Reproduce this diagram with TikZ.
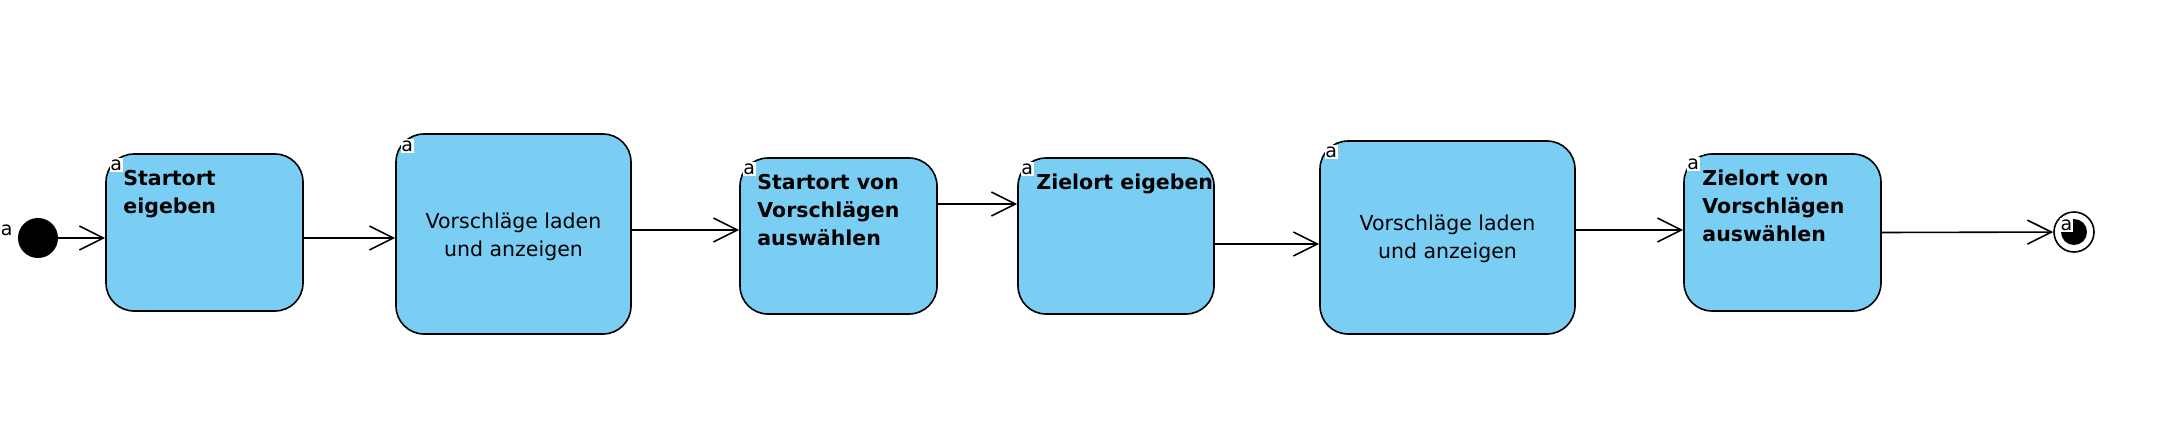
\documentclass[tikz,border=0pt]{standalone}
\usepackage{fontspec}
\setmainfont{DejaVu Sans}
\usetikzlibrary{arrows.meta}
\definecolor{stateblue}{RGB}{122,206,244}

\tikzset{
    state/.style={draw, line width=1.6pt, fill=stateblue, rounded corners=28pt, inner sep=0pt},
    statelabel/.style={anchor=north west, align=left, inner sep=0pt,
        font=\fontsize{20.5}{28}\selectfont\bfseries},
    centerlabel/.style={align=center, inner sep=0pt, font=\fontsize{20.5}{28}\selectfont},
    amark/.style={fill=white, inner sep=0.5pt, text height=12pt, text depth=1pt,
        font=\fontsize{19}{19}\selectfont},
    flow/.style={line width=1.6pt, -{Straight Barb[length=24pt,width=24pt]}}
}

\begin{document}
\begin{tikzpicture}[x=1pt, y=-1pt]
        \useasboundingbox (0, 0) rectangle (2168, 436);

        \node[circle, fill=black, minimum size=40pt, inner sep=0pt] (init) at (38, 238) {};
        \node[state, minimum width=197pt, minimum height=157pt] (b1) at (204.5, 232.5) {};
        \node[state, minimum width=235pt, minimum height=200pt] (b2) at (513.5, 234) {};
        \node[state, minimum width=197pt, minimum height=156pt] (b3) at (838.5, 236) {};
        \node[state, minimum width=196pt, minimum height=156pt] (b4) at (1116, 236) {};
        \node[state, minimum width=255pt, minimum height=193pt] (b5) at (1447.5, 237.5) {};
        \node[state, minimum width=197pt, minimum height=157pt] (b6) at (1782.5, 232.5) {};
        \node[circle, draw, line width=1.6pt, fill=white, minimum size=40pt, inner sep=0pt] (final) at (2074, 232) {};
        \node[circle, fill=black, minimum size=26pt, inner sep=0pt] (finaldot) at (final) {};

        \node[statelabel] (t1) at ([xshift=18pt, yshift=-17pt]b1.north west) {Startort\\eigeben};
        \node[centerlabel] (t2) at ([yshift=-3pt]b2.center) {Vorschläge laden\\und anzeigen};
        \node[statelabel] (t3) at ([xshift=18pt, yshift=-17pt]b3.north west) {Startort von\\Vorschlägen\\auswählen};
        \node[statelabel] (t4) at ([xshift=19pt, yshift=-17pt]b4.north west) {Zielort eigeben};
        \node[centerlabel] (t5) at ([yshift=-1.5pt]b5.center) {Vorschläge laden\\und anzeigen};
        \node[statelabel] (t6) at ([xshift=19pt, yshift=-17pt]b6.north west) {Zielort von\\Vorschlägen\\auswählen};

        \node[amark] (a0) at ([xshift=-11pt, yshift=8pt]init.west) {a};
        \node[amark] (a1) at ([xshift=11pt, yshift=-12pt]b1.north west) {a};
        \node[amark] (a2) at ([xshift=12pt, yshift=-13pt]b2.north west) {a};
        \node[amark] (a3) at ([xshift=10pt, yshift=-12pt]b3.north west) {a};
        \node[amark] (a4) at ([xshift=10pt, yshift=-12pt]b4.north west) {a};
        \node[amark] (a5) at ([xshift=12pt, yshift=-12pt]b5.north west) {a};
        \node[amark] (a6) at ([xshift=10pt, yshift=-11pt]b6.north west) {a};
        \node[amark] (a7) at ([xshift=-7.5pt, yshift=7.5pt]final.center) {a};

        \draw[flow] (init.east) -- (init.east -| b1.west);
        \draw[flow] ([yshift=-5.5pt]b1.east) -- ([yshift=-5.5pt]b1.east -| b2.west);
        \draw[flow] ([yshift=4pt]b2.east) -- ([yshift=4pt]b2.east -| b3.west);
        \draw[flow] ([yshift=32pt]b3.east) -- ([yshift=32pt]b3.east -| b4.west);
        \draw[flow] ([yshift=-8pt]b4.east) -- ([yshift=-8pt]b4.east -| b5.west);
        \draw[flow] ([yshift=7.5pt]b5.east) -- ([yshift=7.5pt]b5.east -| b6.west);
        \draw[flow] (b6.east) -- (final);
    \end{tikzpicture}
\end{document}
